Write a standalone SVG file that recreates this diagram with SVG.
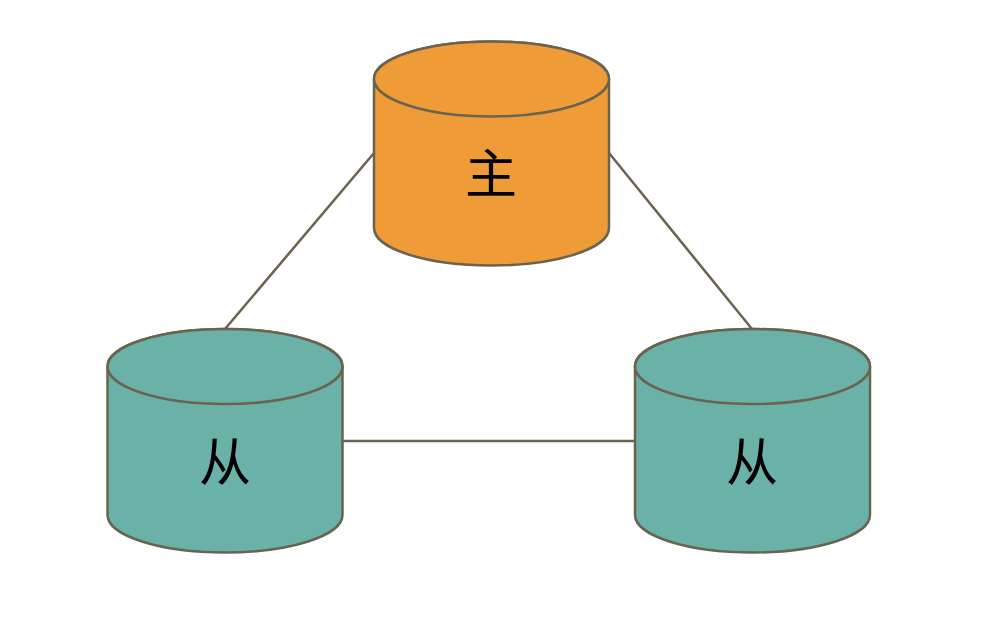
<svg xmlns="http://www.w3.org/2000/svg" width="996" height="622" viewBox="0 0 996 622">
<style>
.l{stroke:#69634f;stroke-width:2.5;fill:none}
.b{stroke:#69634f;stroke-width:2.5}
.t{font-family:"Noto Sans CJK SC","Noto Sans CJK JP",sans-serif;font-size:52px;font-weight:400;fill:#000;text-anchor:middle}
.o{fill:#ef9c38}
.g{fill:#6ab2a8}
</style>
<rect width="996" height="622" fill="#fff"/>
<g id="connectors">
<path class="l" d="M374 153L225 329"/>
<path class="l" d="M609 153L752 329"/>
<path class="l" d="M343 441H634"/>
</g>
<g id="master">
<path class="b o" d="M374 79V228A117.500 37.500 0 0 0 609 228V79A117.500 37.500 0 0 0 374 79Z"/>
<ellipse class="b o" cx="491.500" cy="79" rx="117.500" ry="37.500"/>
<text class="t" x="491" y="193">主</text>
</g>
<g id="slave-left">
<path class="b g" d="M107.500 366.500V515A117.500 37.500 0 0 0 342.500 515V366.500A117.500 37.500 0 0 0 107.500 366.500Z"/>
<ellipse class="b g" cx="225" cy="366.500" rx="117.500" ry="37.500"/>
<text class="t" x="225" y="481">从</text>
</g>
<g id="slave-right">
<path class="b g" d="M635 366.500V515A117.500 37.500 0 0 0 870 515V366.500A117.500 37.500 0 0 0 635 366.500Z"/>
<ellipse class="b g" cx="752.500" cy="366.500" rx="117.500" ry="37.500"/>
<text class="t" x="752" y="481">从</text>
</g>
</svg>
